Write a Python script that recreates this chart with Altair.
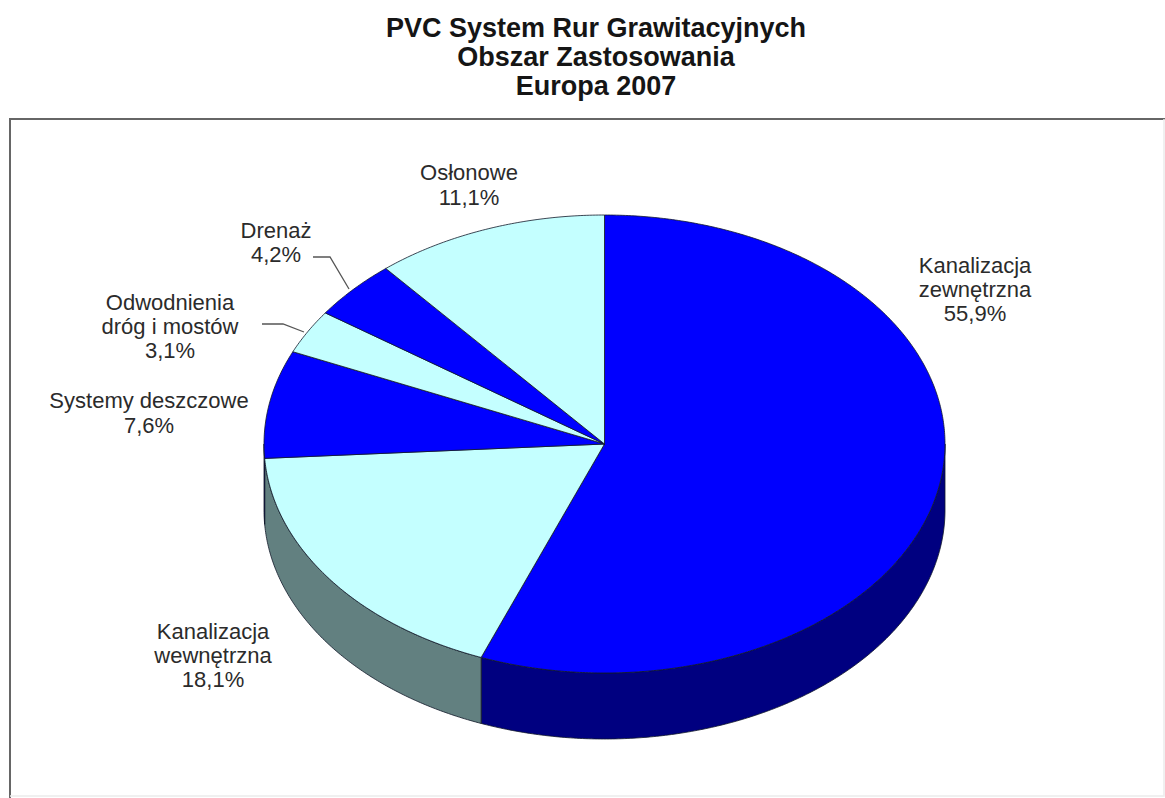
import math
import altair as alt
import pandas as pd

# Share of each application area, clockwise from twelve o'clock
names = ["Kanalizacja zewnętrzna", "Kanalizacja wewnętrzna", "Systemy deszczowe",
         "Odwodnienia dróg i mostów", "Drenaż", "Osłonowe"]
shares = [55.9, 18.1, 7.6, 3.1, 4.2, 11.1]
tones = ["blue", "pale", "blue", "pale", "blue", "pale"]
title_lines = ["PVC System Rur Grawitacyjnych", "Obszar Zastosowania", "Europa 2007"]

W, H = 1165, 798
FONT = "Liberation Sans"
CX, CY, RX = 604.5, 444, 340.5   # pie centre and horizontal radius, px
TILT = 229 / 340.5               # vertical squash of the disc
DEPTH = 66 / 340.5               # wall height in disc units

# Where each label block sits: centre x, and the y of every line
label_layout = {
    "Kanalizacja zewnętrzna": (975, [266, 290, 314], ["Kanalizacja", "zewnętrzna"]),
    "Kanalizacja wewnętrzna": (213, [632, 656, 680], ["Kanalizacja", "wewnętrzna"]),
    "Systemy deszczowe": (149, [401, 426], ["Systemy deszczowe"]),
    "Odwodnienia dróg i mostów": (170, [303, 327, 351], ["Odwodnienia", "dróg i mostów"]),
    "Drenaż": (276, [231, 255], ["Drenaż"]),
    "Osłonowe": (469, [173, 198], ["Osłonowe"]),
}
leader_layout = {
    "Drenaż": [(313, 257), (330, 257), (349, 289)],
    "Odwodnienia dróg i mostów": [(262, 324), (283, 324), (304, 332)],
}


def rim(start, end, drop=0.0):
    """Points along the disc edge between two angles in degrees."""
    steps = max(2, int(abs(end - start)) * 2)
    pts = []
    for i in range(steps + 1):
        a = math.radians(start + (end - start) * i / steps)
        pts.append([math.sin(a), TILT * math.cos(a) - drop])
    return pts


def feature(ring, kind):
    return {"type": "Feature", "properties": {"kind": kind},
            "geometry": {"type": "Polygon", "coordinates": [ring + [ring[0]]]}}


walls, tops = [], []
angle = 0.0
for share, tone in zip(shares, tones):
    sweep = share * 3.6
    start, end = angle, angle + sweep
    tops.append(feature([[0, 0]] + rim(start, end), tone))
    # only the near half of the disc shows a wall
    lo, hi = max(start, 90), min(end, 270)
    if hi > lo:
        walls.append(feature(rim(lo, hi) + rim(hi, lo, DEPTH), tone + "-side"))
    angle = end

colour = alt.Color(
    "properties.kind:N",
    scale=alt.Scale(domain=["blue", "pale", "blue-side", "pale-side"],
                    range=["#0000FF", "#C4FFFF", "#000080", "#628080"]),
    legend=None,
)
projection = alt.Projection(type="identity", reflectY=True, scale=RX, translate=[CX, CY])

wall_layer = alt.Chart(alt.Data(values=walls)).mark_geoshape(
    stroke="#101828", strokeWidth=0.8).encode(color=colour).project(**projection.to_dict())
top_layer = alt.Chart(alt.Data(values=tops)).mark_geoshape(
    stroke="#101828", strokeWidth=0.8).encode(color=colour).project(**projection.to_dict())

# Pixel-for-pixel scales for the annotations
px = alt.Scale(domain=[0, W], range=[0, W], nice=False, zero=False)
py = alt.Scale(domain=[0, H], range=[0, H], nice=False, zero=False)
x_enc = lambda: alt.X("x:Q", scale=px, axis=None)
y_enc = lambda: alt.Y("y:Q", scale=py, axis=None)

rows = []
for name, share in zip(names, shares):
    cx, ys, lines = label_layout[name]
    for text, y in zip(lines + [f"{share:.1f}%".replace(".", ",")], ys):
        rows.append({"x": cx, "y": y, "text": text})
labels = alt.Chart(pd.DataFrame(rows)).mark_text(
    font=FONT, fontSize=22, color="#2b2b2b", align="center", baseline="middle"
).encode(x=x_enc(), y=y_enc(), text="text:N")

leader_rows = [{"name": n, "i": i, "x": p[0], "y": p[1]}
               for n, pts in leader_layout.items() for i, p in enumerate(pts)]
leaders = alt.Chart(pd.DataFrame(leader_rows)).mark_line(
    color="#555555", strokeWidth=1.3
).encode(x=x_enc(), y=y_enc(), detail="name:N", order="i:Q")

title_rows = [{"x": 596, "y": y, "text": t} for t, y in zip(title_lines, [29, 58, 87])]
title = alt.Chart(pd.DataFrame(title_rows)).mark_text(
    font=FONT, fontSize=27, fontWeight="bold", color="#151515", align="center", baseline="middle"
).encode(x=x_enc(), y=y_enc(), text="text:N")

# Frame around the plot: dark on the top and left, barely visible on the other two sides
frame_rows = [
    {"side": "tl", "i": 0, "x": 10, "y": H}, {"side": "tl", "i": 1, "x": 10, "y": 119},
    {"side": "tl", "i": 2, "x": 1165, "y": 119},
]
frame = alt.Chart(pd.DataFrame(frame_rows)).mark_line(
    color="#666666", strokeWidth=2
).encode(x=x_enc(), y=y_enc(), detail="side:N", order="i:Q")
faint_rows = [
    {"side": "rb", "i": 0, "x": 1164, "y": 119}, {"side": "rb", "i": 1, "x": 1164, "y": 796},
    {"side": "rb", "i": 2, "x": 10, "y": 796},
]
faint = alt.Chart(pd.DataFrame(faint_rows)).mark_line(
    color="#ECECEC", strokeWidth=1.5
).encode(x=x_enc(), y=y_enc(), detail="side:N", order="i:Q")

chart = alt.layer(frame, faint, wall_layer, top_layer, leaders, labels, title).resolve_scale(
    color="independent"
).properties(
    width=W, height=H, padding=0, autosize=alt.AutoSizeParams(type="none"), background="white"
).configure_view(stroke=None)

chart.save("out.html", embed_options={"renderer": "svg", "actions": False})
